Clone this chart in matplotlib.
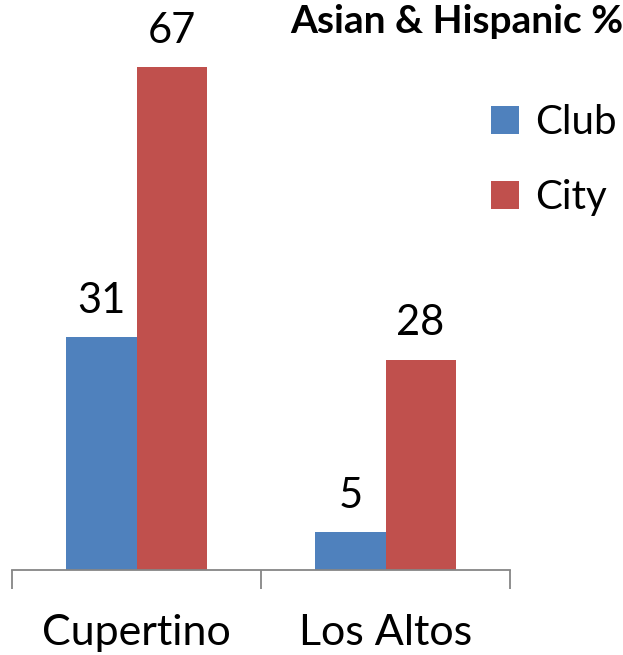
import numpy as np
import matplotlib.pyplot as plt

plt.rcParams['font.family'] = ['Lato', 'DejaVu Sans']

cities = ['Cupertino', 'Los Altos']
club = [31, 5]
city = [67, 28]
series_names = ['Club', 'City']
title = 'Asian & Hispanic %'

fig = plt.figure(figsize=(6.23, 6.55), dpi=100)
ax = fig.add_axes([12/623, 1-570/655, 498/623, 550/655])

x = np.arange(len(cities))
w = 0.282
b1 = ax.bar(x - w/2, club, w, color='#4F81BD', label=series_names[0])
b2 = ax.bar(x + w/2, city, w, color='#C0504D', label=series_names[1])

for bars in (b1, b2):
    for r in bars:
        ax.text(r.get_x() + r.get_width()/2, r.get_height() + 3.3, str(int(r.get_height())),
                ha='center', va='baseline', fontsize=30)

ax.set_xlim(-0.5, 1.5)
ax.set_ylim(0, 73.3)
ax.set_yticks([])
for s in ['top', 'right', 'left']:
    ax.spines[s].set_visible(False)
ax.spines['bottom'].set_color('#868686')
ax.spines['bottom'].set_linewidth(1.3)

# category boundary ticks
ax.set_xticks([-0.5, 0.5, 1.5])
ax.set_xticklabels([])
ax.tick_params(axis='x', length=14, width=1.3, color='#868686', direction='out')
for xi, name in zip(x, cities):
    ax.text(xi, -10, name, ha='center', va='baseline', fontsize=31)

fig.text(290/623, 1-33/655, title, fontsize=28, fontweight='bold', ha='left', va='baseline')

ax.legend(loc='upper left', bbox_to_anchor=(479/498, 1-(104-20)/550), frameon=False,
          fontsize=29, handlelength=0.7, handleheight=0.7, handletextpad=0.4,
          labelspacing=0.95, borderaxespad=0, borderpad=0)

plt.savefig('out.png', dpi=100)
